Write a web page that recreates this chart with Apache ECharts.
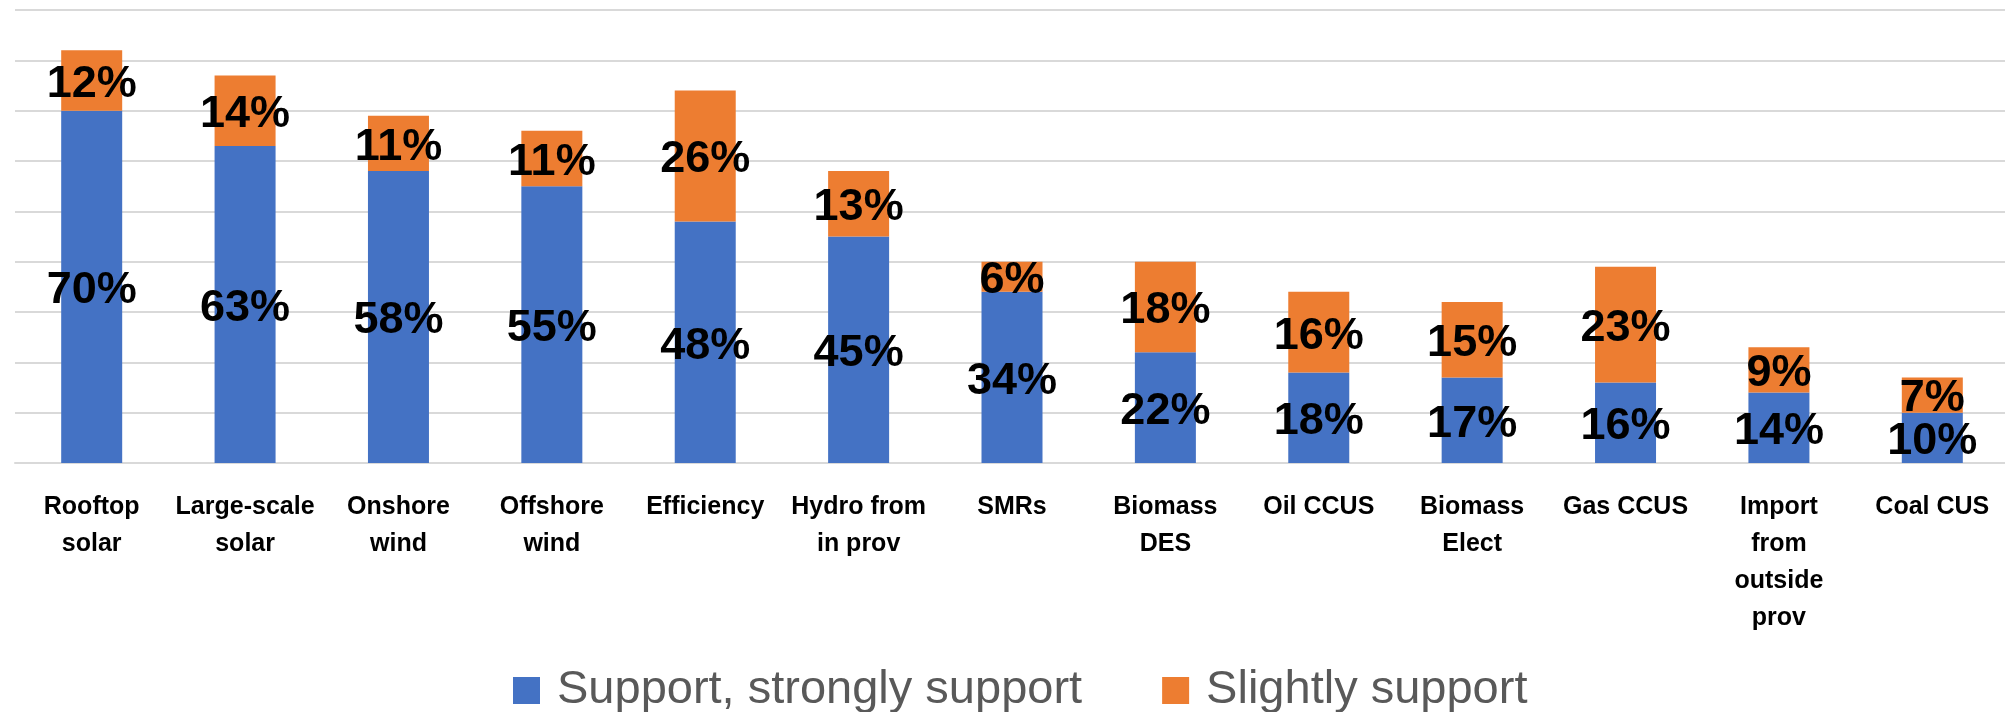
<!DOCTYPE html>
<html>
<head>
<meta charset="utf-8">
<script src="https://cdn.jsdelivr.net/npm/echarts@6/dist/echarts.min.js"></script>
<style>
  html, body { margin: 0; padding: 0; background: #fff; }
  #chart { width: 2005px; height: 712px; }
</style>
</head>
<body>
<div id="chart"></div>
<script>
var categories = [
  "Rooftop\nsolar", "Large-scale\nsolar", "Onshore\nwind", "Offshore\nwind",
  "Efficiency", "Hydro from\nin prov", "SMRs", "Biomass\nDES", "Oil CCUS",
  "Biomass\nElect", "Gas CCUS", "Import\nfrom\noutside\nprov", "Coal CUS"
];
var strongSupport = [70, 63, 58, 55, 48, 45, 34, 22, 18, 17, 16, 14, 10];
var slightSupport = [12, 14, 11, 11, 26, 13, 6, 18, 16, 15, 23, 9, 7];
var seriesNames = ["Support, strongly support", "Slightly support"];

var labelFont = {
  show: true,
  position: "inside",
  offset: [0, 4],
  formatter: "{c}%",
  color: "#000",
  fontFamily: "Liberation Sans, Arial, sans-serif",
  fontWeight: "bold",
  fontSize: 45
};

var option = {
  animation: false,
  legend: {
    data: seriesNames,
    left: 508,
    top: 662,
    icon: "rect",
    itemWidth: 27,
    itemHeight: 27,
    itemGap: 80,
    textStyle: {
      color: "#595959",
      fontFamily: "Liberation Sans, Arial, sans-serif",
      fontSize: 47,
      lineHeight: 27,
      padding: [0, 0, 0, 12]
    }
  },
  grid: {
    left: 15,
    top: 10,
    width: 1994,
    bottom: 249,
    containLabel: false,
    outerBoundsMode: "none"
  },
  xAxis: {
    type: "category",
    data: categories,
    axisLine: { lineStyle: { color: "#d9d9d9", width: 2 } },
    axisTick: { show: false },
    axisLabel: {
      interval: 0,
      margin: 26,
      color: "#000",
      fontFamily: "Liberation Sans, Arial, sans-serif",
      fontWeight: "bold",
      fontSize: 25,
      lineHeight: 37,
      verticalAlign: "top"
    }
  },
  yAxis: {
    type: "value",
    min: 0,
    max: 90,
    interval: 10,
    axisLabel: { show: false },
    axisLine: { show: false },
    axisTick: { show: false },
    splitLine: { lineStyle: { color: "#d9d9d9", width: 2 } }
  },
  series: [{
    name: seriesNames[0],
    type: "bar",
    stack: "total",
    barWidth: 61,
    itemStyle: { color: "#4472C4" },
    label: labelFont,
    data: strongSupport
  },
  {
    name: seriesNames[1],
    type: "bar",
    stack: "total",
    barWidth: 61,
    itemStyle: { color: "#ED7D31" },
    label: labelFont,
    data: slightSupport
  }]
};

echarts.init(document.getElementById("chart")).setOption(option);
</script>
</body>
</html>
